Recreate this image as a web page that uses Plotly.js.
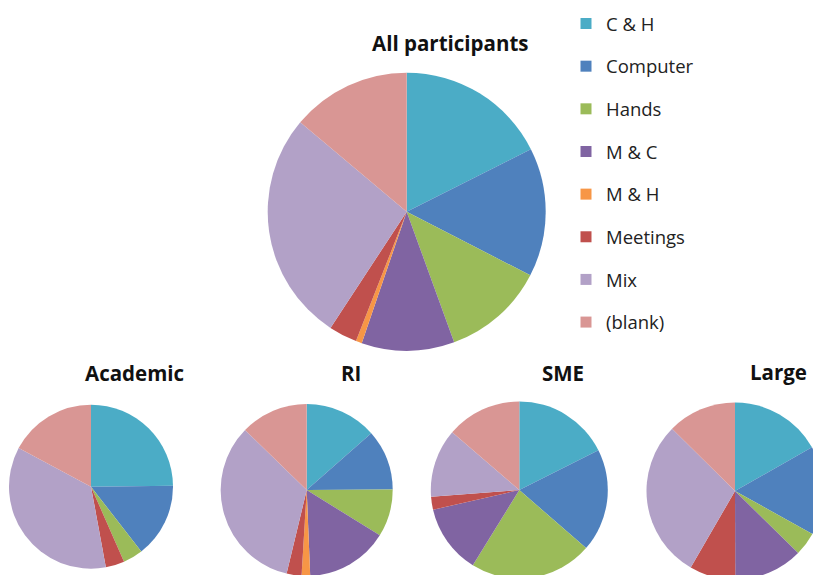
<!DOCTYPE html>
<html><head><meta charset="utf-8">
<script src="https://cdn.plot.ly/plotly-3.0.1.min.js"></script>
<style>html,body{margin:0;padding:0;overflow:hidden;background:#fff;width:813px;height:575px}#chart{width:840px;height:600px}</style>
</head><body><div id="chart"></div>
<script>
// ---- data ----
const labels = ['C & H', 'Computer', 'Hands', 'M & C', 'M & H', 'Meetings', 'Mix', '(blank)'];
const colors = ['#4BACC6', '#4F81BD', '#9BBB59', '#8064A2', '#F79646', '#C0504D', '#B2A1C7', '#D99694'];
const titles = ['All participants', 'Academic', 'RI', 'SME', 'Large'];
const allParticipants = [17.6, 15.0, 11.9, 10.8, 0.7, 3.3, 26.9, 13.9];
const academic = [24.8, 14.7, 3.9, 0, 0, 3.7, 35.7, 17.2];
const ri = [13.5, 11.4, 8.9, 15.5, 1.6, 2.8, 33.5, 12.7];
const sme = [17.6, 18.8, 22.4, 12.6, 0, 2.4, 12.5, 13.7];
const large = [16.8, 16.3, 4.3, 12.6, 0, 8.4, 29.1, 12.6];
const series = [allParticipants, academic, ri, sme, large];

// ---- layout (pixel geometry) ----
const W = 840, H = 600;
const pies = [
  {cx: 406.7, cy: 211.7, r: 139},
  {cx: 91, cy: 486.7, r: 82},
  {cx: 306.7, cy: 490, r: 86},
  {cx: 519.3, cy: 490, r: 88.5},
  {cx: 735, cy: 491, r: 88.5}
];
const titlePos = [
  {x: 450.5, y: 42.7, size: 20.5},
  {x: 134, y: 373.3, size: 20.5},
  {x: 351, y: 373, size: 20.5},
  {x: 562.5, y: 373, size: 20.5},
  {x: 778, y: 372, size: 20.5}
];
function dom(p) {
  return {x: [(p.cx - p.r) / W, (p.cx + p.r) / W], y: [(H - p.cy - p.r) / H, (H - p.cy + p.r) / H]};
}

const data = series.map((vals, i) => ({
  type: 'pie', labels: labels, values: vals, sort: false,
  direction: 'clockwise', rotation: 0, textinfo: 'none', hoverinfo: 'label+value',
  marker: {colors: colors, line: {width: 0}}, domain: dom(pies[i]), showlegend: false
}));
labels.forEach((l, i) => data.push({
  type: 'scatter', mode: 'markers', x: [null], y: [null], name: l, legendgroup: l,
  marker: {symbol: 'square', size: 11, color: colors[i]}, showlegend: true, hoverinfo: 'skip'
}));

const layout = {
  width: W, height: H, margin: {l: 0, r: 0, t: 0, b: 0},
  paper_bgcolor: '#fff', plot_bgcolor: '#fff',
  xaxis: {visible: false}, yaxis: {visible: false},
  showlegend: true,
  legend: {x: 566 / W, y: 1 - 5 / H, xanchor: 'left', yanchor: 'top', traceorder: 'grouped',
    tracegroupgap: 15.6, font: {family: 'Open Sans', size: 18.5, color: '#222'}, bgcolor: 'rgba(0,0,0,0)'},
  annotations: titles.map((t, i) => ({
    text: '<b>' + t + '</b>', xref: 'paper', yref: 'paper', x: titlePos[i].x / W, y: 1 - titlePos[i].y / H,
    xanchor: 'center', yanchor: 'middle', showarrow: false,
    font: {family: 'Open Sans', size: titlePos[i].size, color: '#111'}
  }))
};
Plotly.newPlot('chart', data, layout, {displayModeBar: false, staticPlot: true});
</script></body></html>
